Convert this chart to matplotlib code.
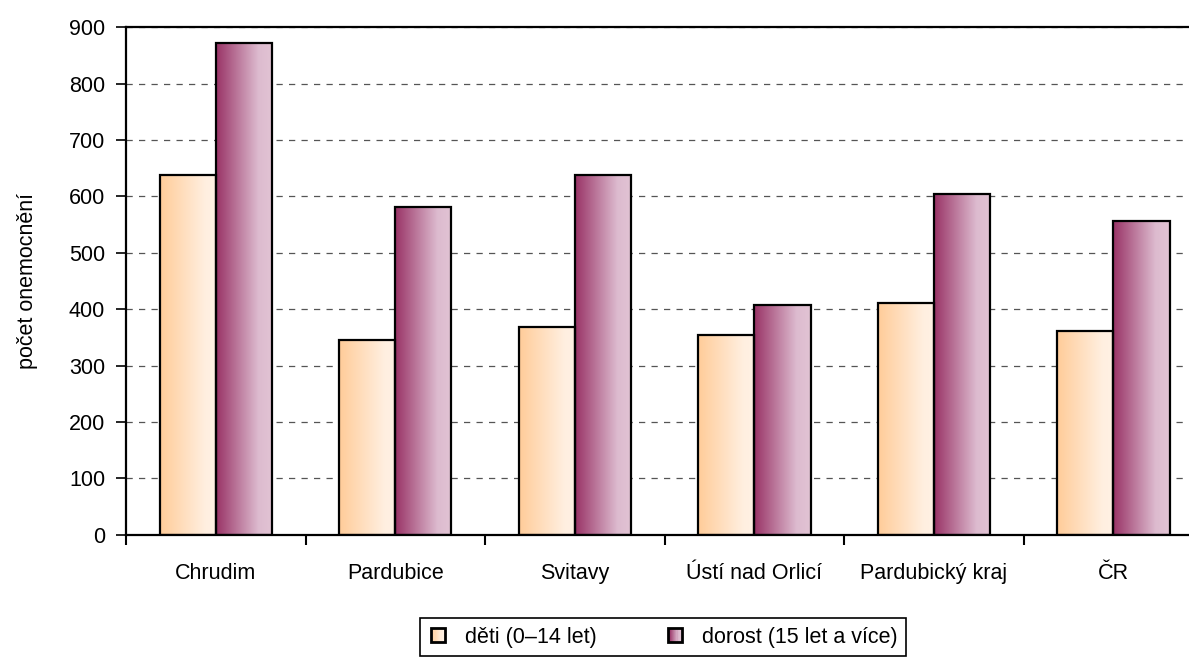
import numpy as np
import matplotlib
matplotlib.use('Agg')
import matplotlib.pyplot as plt
from matplotlib.colors import LinearSegmentedColormap
from matplotlib.legend_handler import HandlerBase
from matplotlib.patches import Rectangle

# data
categories = ['Chrudim', 'Pardubice', 'Svitavy', 'Ústí nad Orlicí', 'Pardubický kraj', 'ČR']
deti = [638, 345, 369, 354, 411, 362]
dorost = [872, 582, 638, 407, 605, 556]
series_labels = ['děti (0–14 let)', 'dorost (15 let a více)']
y_ticks = [0, 100, 200, 300, 400, 500, 600, 700, 800, 900]

plt.rcParams['font.family'] = ['Liberation Sans', 'DejaVu Sans']
FS = 15.5

cmap_deti = LinearSegmentedColormap.from_list(
    'deti', [(0, '#FFCC99'), (0.8, '#FFEFE0'), (1, '#FFF1E4')])
cmap_dorost = LinearSegmentedColormap.from_list(
    'dorost', [(0, '#993366'), (0.75, '#DDBBCF'), (1, '#E2C4D4')])


class GradientHandler(HandlerBase):
    def __init__(self, cmap, n=12):
        super().__init__()
        self.cmap = cmap
        self.n = n

    def create_artists(self, legend, orig_handle, xdescent, ydescent,
                       width, height, fontsize, trans):
        s = height * 0.95
        x0 = -xdescent + (width - s) / 2
        y0 = -ydescent + (height - s) / 2
        arts = []
        for i in range(self.n):
            r = Rectangle((x0 + i * s / self.n, y0), s / self.n + 0.3, s,
                          facecolor=self.cmap(i / (self.n - 1)), edgecolor='none',
                          transform=trans)
            arts.append(r)
        arts.append(Rectangle((x0, y0), s, s, facecolor='none', edgecolor='black',
                              linewidth=2.0, transform=trans))
        return arts


fig = plt.figure(figsize=(11.89, 6.62), dpi=100)
ax = fig.add_axes([0.106, 0.192, 0.906, 0.767])

x = np.arange(len(categories))
w = 0.3125
bars1 = ax.bar(x - w / 2, deti, w, facecolor='none', edgecolor='black', linewidth=1.6, zorder=3)
bars2 = ax.bar(x + w / 2, dorost, w, facecolor='none', edgecolor='black', linewidth=1.6, zorder=3)

grad = np.linspace(0, 1, 256).reshape(1, -1)
for bars, cmap in [(bars1, cmap_deti), (bars2, cmap_dorost)]:
    for b in bars:
        ax.imshow(grad, extent=[b.get_x(), b.get_x() + b.get_width(), 0, b.get_height()],
                  aspect='auto', cmap=cmap, zorder=2, interpolation='bilinear')

ax.set_xlim(-0.5, len(categories) - 0.5)
ax.set_ylim(0, 900)
ax.set_yticks(y_ticks)
ax.yaxis.grid(True, linestyle=(0, (5, 5)), color='#555555', linewidth=0.9)
ax.set_axisbelow(True)

ax.set_xticks(x)
ax.set_xticklabels(categories)
ax.set_xticks(np.arange(-0.5, len(categories)), minor=True)
ax.tick_params(axis='x', which='major', length=0, pad=20, labelsize=FS)
ax.tick_params(axis='x', which='minor', length=7, width=1.5, direction='out')
ax.tick_params(axis='y', length=7, width=1.2, direction='out', pad=8, labelsize=FS)

for side in ['left', 'bottom', 'top']:
    ax.spines[side].set_linewidth(1.6)
ax.spines['right'].set_visible(False)

ax.set_ylabel('počet onemocnění', fontsize=FS, labelpad=22)

h1 = Rectangle((0, 0), 1, 1)
h2 = Rectangle((0, 0), 1, 1)
leg = fig.legend([h1, h2], series_labels, loc='upper center',
                 bbox_to_anchor=(0.5577, 0.0665), ncol=2, fontsize=FS,
                 handler_map={h1: GradientHandler(cmap_deti), h2: GradientHandler(cmap_dorost)},
                 fancybox=False, edgecolor='black', framealpha=1,
                 handlelength=0.9, handletextpad=0.8, columnspacing=3.2,
                 borderpad=0.4, borderaxespad=0)
leg.get_frame().set_linewidth(1.2)

fig.savefig('out.png', dpi=100)
